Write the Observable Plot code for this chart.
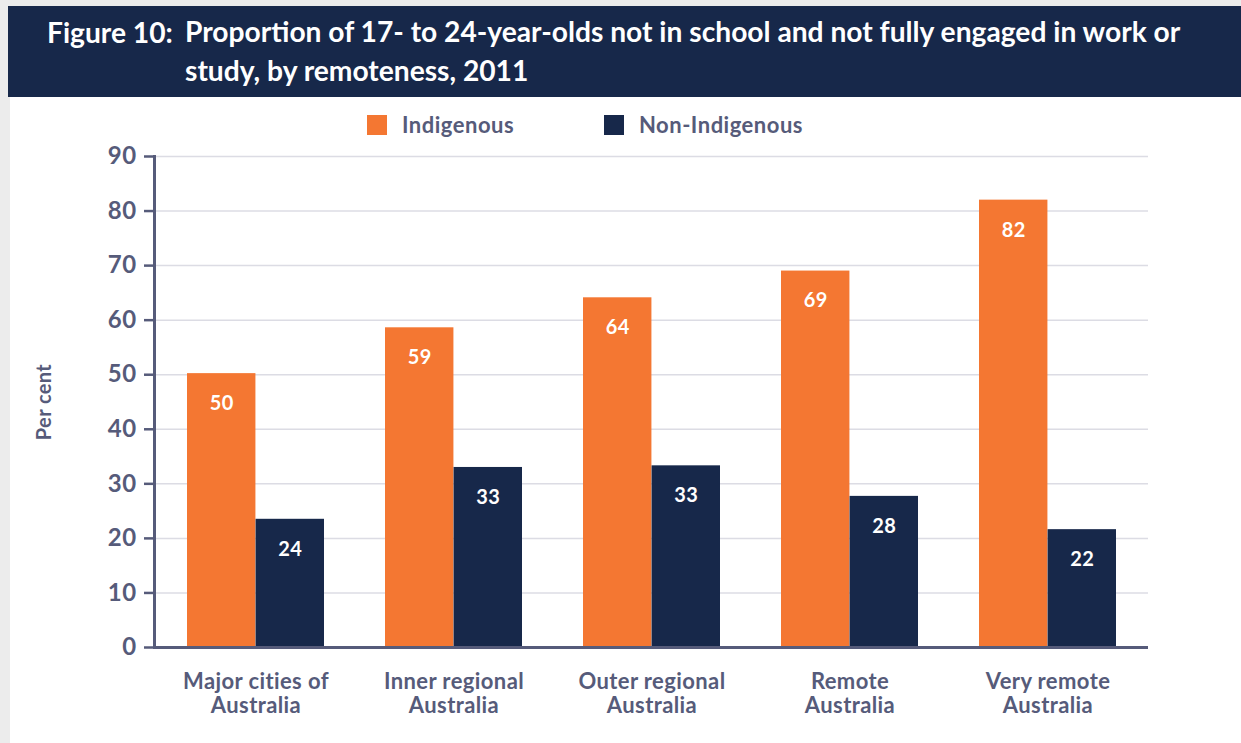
<!DOCTYPE html>
<html><head><meta charset="utf-8">
<script src="https://cdn.jsdelivr.net/npm/d3@7"></script>
<script src="https://cdn.jsdelivr.net/npm/@observablehq/plot@0.6"></script>
<style>
html,body{margin:0;padding:0;}
body{width:1241px;height:743px;background:#ececec;position:relative;overflow:hidden;font-family:Lato,"Noto Sans",sans-serif;}
#title{position:absolute;left:8px;top:6px;right:0;height:91px;background:#17284a;color:#fff;font-weight:700;font-size:28.2px;}
#title .fig{position:absolute;left:39px;top:6px;line-height:40px;}
#title .txt{position:absolute;left:177px;top:6px;line-height:39px;white-space:nowrap;}
#panel{position:absolute;left:10px;top:97px;right:0;bottom:0;background:#fff;}
#legend{position:absolute;top:14px;left:0;width:100%;height:30px;}
.item{position:absolute;display:flex;align-items:center;font-weight:700;font-size:22px;letter-spacing:0.5px;color:#565b7a;}
.sw{width:20px;height:20px;margin-right:15px;}
#chart{position:absolute;left:0;top:0;}
#chart svg text{letter-spacing:0.4px;}
</style></head>
<body>
<div id="title"><span class="fig">Figure 10:</span><span class="txt">Proportion of 17- to 24-year-olds not in school and not fully engaged in work or<br>study, by remoteness, 2011</span></div>
<div id="panel"><div id="chart"></div><div id="legend"></div></div>
<script>
// ---- data ----
const regions = ["Major cities of\nAustralia", "Inner regional\nAustralia", "Outer regional\nAustralia", "Remote\nAustralia", "Very remote\nAustralia"];
const indigenous = [50.2, 58.6, 64.1, 69.0, 82.0];
const nonIndigenous = [23.5, 33.0, 33.3, 27.7, 21.6];
const seriesNames = ["Indigenous", "Non-Indigenous"];
const seriesColors = ["#f47732", "#17284a"];
const yTicks = [0, 10, 20, 30, 40, 50, 60, 70, 80, 90];

// ---- legend ----
const legendLeft = [357, 594];
const legend = document.getElementById("legend");
seriesNames.forEach((s, i) => {
  const it = document.createElement("div");
  it.className = "item";
  it.style.left = legendLeft[i] + "px";
  it.innerHTML = `<span class="sw" style="background:${seriesColors[i]}"></span><span>${s}</span>`;
  legend.appendChild(it);
});

// ---- chart ----
const W = 1231, H = 646, ML = 144, MR = 93, MT = 59, MB = 96;
const PI = 0.31, PO = 0.155;
const step = (W - ML - MR) / (regions.length - PI + 2 * PO);
const bw = step * (1 - PI);
const rows = regions.flatMap((r, i) => [
  {region: r, series: seriesNames[0], value: indigenous[i]},
  {region: r, series: seriesNames[1], value: nonIndigenous[i]}
]);
const ind = rows.filter(d => d.series === seriesNames[0]);
const non = rows.filter(d => d.series === seriesNames[1]);
const axisColor = "#565b7a";

const chart = Plot.plot({
  width: W, height: H,
  marginLeft: ML, marginRight: MR, marginTop: MT, marginBottom: MB,
  style: {fontFamily: "Lato, 'Noto Sans', sans-serif", fontWeight: 700, background: "transparent", overflow: "visible"},
  x: {domain: regions, paddingInner: PI, paddingOuter: PO},
  y: {domain: [0, 90]},
  marks: [
    Plot.gridY(yTicks, {stroke: "#dcdce4", strokeOpacity: 1, strokeWidth: 1.5}),
    Plot.barY(ind, {x: "region", y: "value", fill: seriesColors[0], insetRight: bw / 2}),
    Plot.barY(non, {x: "region", y: "value", fill: seriesColors[1], insetLeft: bw / 2}),
    Plot.text(ind, {x: "region", y: "value", text: d => String(Math.round(d.value)), dx: -bw / 4, dy: 30, fill: "white", fontSize: 20, fontWeight: 700}),
    Plot.text(non, {x: "region", y: "value", text: d => String(Math.round(d.value)), dx: bw / 4, dy: 30, fill: "white", fontSize: 20, fontWeight: 700}),
    Plot.ruleY([0], {stroke: axisColor, strokeWidth: 3}),
    Plot.frame({anchor: "left", stroke: axisColor, strokeWidth: 3}),
    Plot.axisY(yTicks, {tickSize: 10, tickPadding: 8, fontSize: 24, color: axisColor, strokeWidth: 2.5, label: "Per cent", labelAnchor: "center", labelOffset: 118, labelArrow: "none"}),
    Plot.axisX({tickSize: 0, tickPadding: 25, fontSize: 22, lineHeight: 1.08, color: axisColor, label: null})
  ]
});
document.getElementById("chart").appendChild(chart);
// y-axis title is smaller than tick labels in the reference
chart.querySelectorAll('g[aria-label="y-axis label"] text').forEach(t => t.setAttribute("font-size", 20));
</script>
</body></html>
